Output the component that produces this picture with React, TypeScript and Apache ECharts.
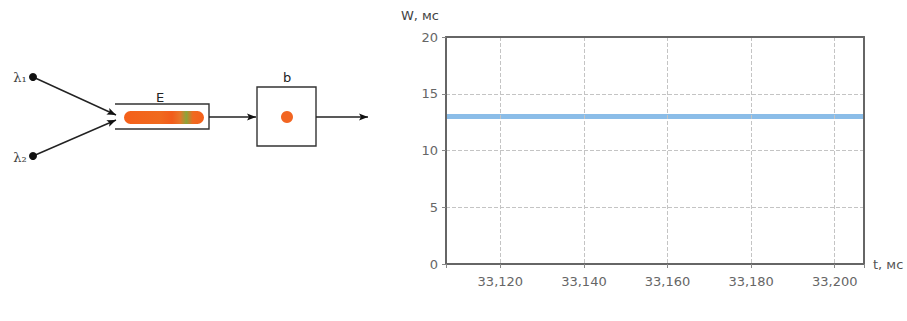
import React, { useEffect, useRef } from "react";
import * as echarts from "echarts";

const tValues = [33107, 33207];
const wValues = [13, 13];
const xMin = 33107;
const xMax = 33207;
const yTicks = [0, 5, 10, 15, 20];

function arrowHead(x1: number, y1: number, x2: number, y2: number, len = 9, half = 3.5) {
  const dx = x2 - x1, dy = y2 - y1;
  const d = Math.sqrt(dx * dx + dy * dy);
  const ux = dx / d, uy = dy / d;
  const bx = x2 - ux * len, by = y2 - uy * len;
  return [
    [x2, y2],
    [bx - uy * half, by + ux * half],
    [bx + ux * 2, by + uy * 2],
    [bx + uy * half, by - ux * half],
  ];
}

function arrowLine(x1: number, y1: number, x2: number, y2: number): any[] {
  return [
    { type: "line", shape: { x1, y1, x2, y2 }, style: { stroke: "#222", lineWidth: 1.4 } },
    { type: "polygon", shape: { points: arrowHead(x1, y1, x2, y2) }, style: { fill: "#111" } },
  ];
}

export default function App() {
  const ref = useRef<HTMLDivElement>(null);
  useEffect(() => {
    document.body.style.margin = "0";
    const chart = echarts.init(ref.current!, null, { renderer: "svg" });
    const font = "DejaVu Sans, Verdana, sans-serif";
    const graphic: any[] = [
      ...arrowLine(33, 77, 116, 115),
      ...arrowLine(33, 156, 116, 120),
      { type: "circle", shape: { cx: 33, cy: 77, r: 4 }, style: { fill: "#111" } },
      { type: "circle", shape: { cx: 33, cy: 156, r: 4 }, style: { fill: "#111" } },
      { type: "text", x: 20, y: 77, style: { text: "λ₁", fontSize: 13, fill: "#444", align: "center", verticalAlign: "middle", fontFamily: "DejaVu Serif, serif" } },
      { type: "text", x: 20, y: 157, style: { text: "λ₂", fontSize: 13, fill: "#444", align: "center", verticalAlign: "middle", fontFamily: "DejaVu Serif, serif" } },
      { type: "polyline", shape: { points: [[115, 104], [209, 104], [209, 129], [115, 129]] }, style: { stroke: "#333", lineWidth: 1.4, fill: null } },
      {
        type: "rect",
        shape: { x: 124, y: 111, width: 80, height: 13, r: 6.5 },
        style: {
          fill: new echarts.graphic.LinearGradient(0, 0, 1, 0, [
            { offset: 0, color: "#f4601a" },
            { offset: 0.45, color: "#f06a1e" },
            { offset: 0.6, color: "#f25c1a" },
            { offset: 0.7, color: "#e8762a" },
            { offset: 0.78, color: "#8aa53a" },
            { offset: 0.86, color: "#f06a20" },
            { offset: 1, color: "#f4601a" },
          ]),
        },
      },
      { type: "text", x: 160, y: 97, style: { text: "E", fontSize: 13, fill: "#222", align: "center", verticalAlign: "middle", fontFamily: font } },
      ...arrowLine(209, 117, 256, 117),
      { type: "rect", shape: { x: 257, y: 87, width: 59, height: 59 }, style: { stroke: "#333", lineWidth: 1.4, fill: "#fff" } },
      { type: "circle", shape: { cx: 287, cy: 117, r: 6 }, style: { fill: "#f26522" } },
      { type: "text", x: 287, y: 77, style: { text: "b", fontSize: 13, fill: "#222", align: "center", verticalAlign: "middle", fontFamily: font } },
      ...arrowLine(316, 117, 368, 117),
    ];
    const frameAxis = {
      type: "value",
      axisLine: { show: true, onZero: false, lineStyle: { color: "#666", width: 2 } },
      axisTick: { show: false },
      axisLabel: { show: false },
      splitLine: { show: false },
      z: 5,
    };
    chart.setOption({
      animation: false,
      backgroundColor: "#fff",
      textStyle: { fontFamily: font },
      graphic,
      grid: { left: 446, right: 43, top: 37, bottom: 57 },
      xAxis: [
        {
          type: "value",
          min: xMin,
          max: xMax,
          splitNumber: 5,
          name: "t, мс",
          nameLocation: "end",
          nameGap: 9,
          nameTextStyle: { color: "#555", fontSize: 13, fontFamily: font },
          axisLine: { show: true, onZero: false, lineStyle: { color: "#666", width: 2 } },
          axisTick: { show: true, length: 4, lineStyle: { color: "#888" } },
          axisLabel: {
            color: "#666",
            fontSize: 13,
            margin: 11,
            formatter: (v: number) => (v % 20 === 0 ? echarts.format.addCommas(v) : ""),
          },
          splitLine: { show: true, lineStyle: { color: "#c4c4c4", type: "dashed" } },
          z: 5,
        },
        { ...frameAxis, position: "top", min: xMin, max: xMax },
      ],
      yAxis: [
        {
          type: "value",
          min: yTicks[0],
          max: yTicks[yTicks.length - 1],
          interval: 5,
          name: "W, мс",
          nameLocation: "end",
          nameGap: 15,
          nameTextStyle: { color: "#444", fontSize: 13, align: "right", padding: [0, 7, 0, 0], fontFamily: font },
          axisLine: { show: true, onZero: false, lineStyle: { color: "#666", width: 2 } },
          axisTick: { show: true, length: 4, lineStyle: { color: "#888" } },
          axisLabel: { color: "#666", fontSize: 13, margin: 8 },
          splitLine: { show: true, lineStyle: { color: "#c4c4c4", type: "dashed" } },
          z: 5,
        },
        { ...frameAxis, position: "right", min: 0, max: 20 },
      ],
      series: [
        {
          type: "line",
          data: tValues.map((t, i) => [t, wValues[i]]),
          symbol: "none",
          lineStyle: { color: "#8bbde8", width: 5 },
        },
      ],
    });
    return () => chart.dispose();
  }, []);
  return <div ref={ref} style={{ width: 907, height: 321 }} />;
}
